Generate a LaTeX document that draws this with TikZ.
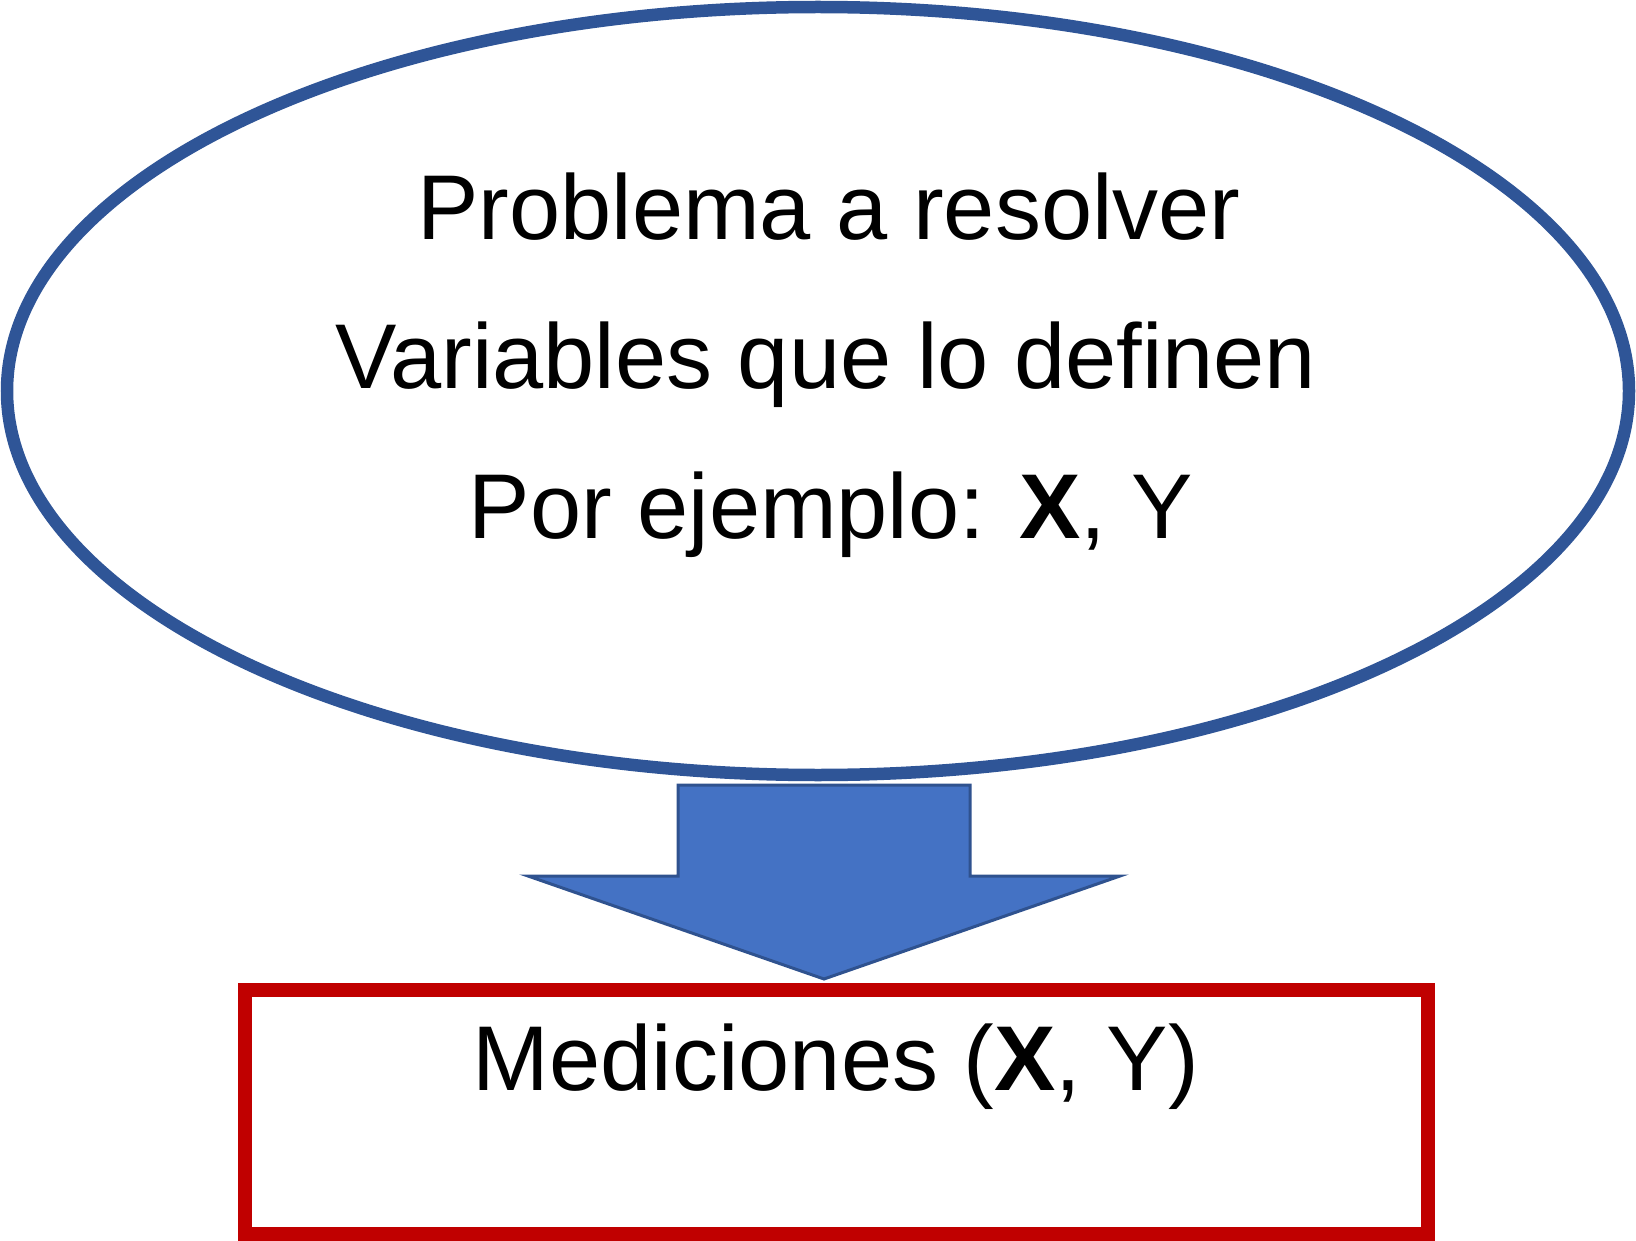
\documentclass[tikz,border=0pt]{standalone}
\usepackage{fontspec}
\setmainfont{Liberation Sans}
\usetikzlibrary{shapes.geometric}
\definecolor{ellblue}{HTML}{2F5597}
\definecolor{arrfill}{HTML}{4472C4}
\definecolor{arrline}{HTML}{2F528F}
\definecolor{boxred}{HTML}{C00000}
\tikzset{
  bigtext/.style={font=\fontsize{92}{110}\selectfont, anchor=base, inner sep=0pt},
  ellbox/.style={ellipse, draw=ellblue, line width=12.5pt, inner sep=0pt},
  redbox/.style={rectangle, draw=boxred, line width=14pt, inner sep=0pt},
  arrowshape/.style={fill=arrfill, draw=arrline, line width=3pt, line join=miter}
}
\begin{document}
\begin{tikzpicture}[x=1pt, y=-1pt]
\useasboundingbox (0,0) rectangle (1636,1241);
\node[ellbox, minimum width=1622pt, minimum height=768pt] (ell) at (818,391) {};
\node[redbox, minimum width=1183pt, minimum height=244pt] (box) at (836.5,1112) {};
\coordinate (s1) at (678,785);
\coordinate (s2) at (970,785);
\coordinate (s3) at (970,876);
\coordinate (h1) at (1120,876);
\coordinate (tip) at (824,979);
\coordinate (h2) at (528,876);
\coordinate (s4) at (678,876);
\draw[arrowshape] (s1) -- (s2) -- (s3) -- (h1) -- (tip) -- (h2) -- (s4) -- cycle;
\node[bigtext] (t1) at (829,240) {Problema a resolver};
\node[bigtext] (t2) at (826,388) {Variables que lo definen};
\node[bigtext] (t3) at (831,538) {Por ejemplo: \textbf{X}, Y};
\node[bigtext] (t4) at (836,1090) {Mediciones (\textbf{X}, Y)};
\end{tikzpicture}
\end{document}
